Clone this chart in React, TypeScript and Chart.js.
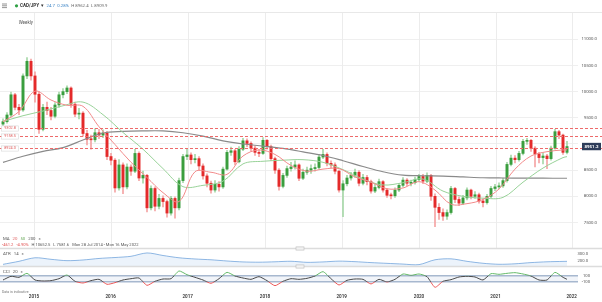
import React, { useEffect, useRef } from 'react';
import { Chart, registerables } from 'chart.js';

Chart.register(...registerables);

const FONT = 'Roboto, "Liberation Sans", sans-serif';

// ---- weekly candles (CAD/JPY x100) ----
const firstOpen = 9380;
const closes = [
  9426, 9554, 9940, 9700, 9650, 10300, 10580, 10300, 9950, 9280,
  9700, 9640, 9530, 9745, 9940, 10000, 10070, 9760, 9570, 9590,
  9200, 9090, 9080, 9215, 9170, 9210, 8760, 8690, 8160, 8600,
  8180, 8560, 8480, 8820, 8350, 8400, 7780, 8150, 7810, 7960,
  7900, 7680, 7960, 7780, 8300, 8760, 8790, 8700, 8720, 8580,
  8390, 8250, 8120, 8230, 8180, 8520, 8840, 8870, 8660, 8900,
  9060, 9010, 8920, 8840, 8820, 9070, 8950, 8720, 8500, 8190,
  8400, 8530, 8560, 8600, 8345, 8460, 8500, 8530, 8550, 8750,
  8800, 8630, 8600, 8480, 8120, 8240, 8350, 8400, 8460, 8250,
  8360, 8280, 8100, 8170, 8280, 8120, 8020, 8010, 8120, 8210,
  8310, 8250, 8260, 8320, 8380, 8290, 8400, 8000, 7790, 7690,
  7620, 7690, 8150, 7940, 7870, 7970, 8120, 8000, 8030, 7910,
  7880, 8000, 8150, 8180, 8200, 8300, 8610, 8730, 8700, 8820,
  9050, 9070, 8920, 8810, 8740, 8770, 8720, 8920, 9235, 9170,
  8840, 8951.2,
];
const highs = [
  9480, 9600, 9990, 9970, 9760, 10340, 10652, 10620, 10380, 10000,
  9760, 9800, 9700, 9790, 9990, 10060, 10110, 10090, 9800, 9680,
  9620, 9260, 9170, 9290, 9280, 9270, 9240, 8820, 8720, 8700,
  8640, 8620, 8600, 8900, 8850, 8480, 8420, 8200, 8180, 8040,
  8010, 7930, 8000, 7990, 8350, 8800, 8900, 8830, 8800, 8760,
  8620, 8430, 8290, 8300, 8280, 8560, 8880, 8940, 8900, 8950,
  9110, 9100, 9040, 8960, 8900, 9120, 9090, 8980, 8750, 8530,
  8440, 8580, 8650, 8680, 8620, 8520, 8560, 8600, 8620, 8800,
  8900, 8830, 8680, 8640, 8500, 8300, 8400, 8460, 8520, 8490,
  8420, 8400, 8310, 8230, 8330, 8300, 8150, 8060, 8160, 8250,
  8360, 8340, 8310, 8370, 8420, 8420, 8450, 8420, 8050, 7860,
  7760, 7740, 8190, 8170, 7990, 8020, 8160, 8140, 8090, 8060,
  7950, 8040, 8190, 8230, 8260, 8350, 8650, 8790, 8780, 8860,
  9090, 9110, 9090, 8950, 8840, 8830, 8800, 8960, 9280, 9260,
  9190, 9050,
];
const lows = [
  9340, 9400, 9520, 9650, 9560, 9620, 10250, 10220, 9800, 9200,
  9250, 9560, 9460, 9500, 9700, 9880, 9960, 9700, 9520, 9480,
  9150, 8980, 8900, 9040, 9100, 9120, 8700, 8600, 8080, 8120,
  8050, 8140, 8400, 8450, 8300, 8250, 7700, 7740, 7720, 7760,
  7800, 7600, 7640, 7581.6, 7740, 8260, 8700, 8620, 8640, 8500,
  8330, 8180, 8060, 8080, 8100, 8150, 8500, 8780, 8600, 8640,
  8870, 8950, 8860, 8780, 8760, 8800, 8900, 8680, 8440, 8120,
  8160, 8360, 8480, 8520, 8300, 8320, 8420, 8440, 8480, 8520,
  8720, 8580, 8540, 8430, 8080, 7612, 8200, 8310, 8360, 8200,
  8220, 8220, 8060, 8070, 8140, 8080, 7980, 7950, 7980, 8090,
  8180, 8200, 8200, 8230, 8290, 8240, 8260, 7920, 7422, 7560,
  7540, 7560, 7660, 7880, 7820, 7840, 7930, 7950, 7960, 7870,
  7800, 7850, 7970, 8110, 8140, 8170, 8270, 8580, 8640, 8670,
  8790, 8990, 8860, 8560, 8640, 8620, 8530, 8690, 8900, 9100,
  8800, 8810,
];

// moving averages, sampled every 4 / 5 candles (last value = last candle)
const ma20 = [
  9426, 9620, 10010, 9840, 9740, 9720, 9330, 8990, 8650, 8360,
  8070, 7900, 8470, 8460, 8420, 8770, 8886, 8800, 8590, 8480,
  8520, 8530, 8370, 8270, 8145, 8160, 8280, 8120, 7850, 7860,
  7940, 8140, 8520, 8770, 8853, 8886, 8886,
];
const ma50 = [
  9430, 9540, 9630, 9730, 9800, 9560, 9220, 8900, 8530, 8185,
  8210, 8290, 8620, 8670, 8690, 8700, 8650, 8510, 8330, 8217,
  8260, 8330, 8100, 8000, 7965, 7980, 8270, 8540, 8740, 8758,
];
const ma200 = [
  8650, 8765, 8860, 8930, 9077, 9210, 9240, 9250, 9250, 9215,
  9150, 9060, 9000, 8960, 8915, 8850, 8780, 8680, 8570, 8470,
  8405, 8393, 8385, 8370, 8355, 8350, 8348, 8346, 8345, 8345,
];
// ATR 14, sampled every 4 candles
const atr = [
  150, 195, 248, 225, 205, 215, 238, 252, 270, 320,
  282, 248, 230, 218, 200, 186, 182, 188, 196, 180,
  186, 198, 190, 176, 165, 154, 146, 218, 232, 195,
  166, 151, 158, 176, 188, 194, 195,
];
// CCI 20, sampled every 2 candles
const cci = [
  -43, 80, 46, 179, -43, -76, -65, 0, 123, -87,
  -143, -65, -21, -187, -132, -43, 0, 23, -221, -87,
  -10, 0, 257, 134, 46, -43, -154, 0, 212, 90,
  23, -21, 68, -65, -232, -87, 0, -21, 12, 90,
  235, 0, -210, -54, -10, -21, -176, -21, -110, -21,
  157, 112, 157, 68, -287, -87, -32, 57, 80, 57,
  -43, 168, 146, 179, 201, 157, 90, -43, -43, 212,
  46, -21,
];

const levels = [9302.8, 9158.5, 8924.0];
const priceTicks = [7500, 8000, 8500, 9000, 9500, 10000, 10500, 11000];
const atrTicks = [300, 200];
const cciTicks = [100, -100];
const yearLabels = ['2015', '2016', '2017', '2018', '2019', '2020', '2021', '2022'];
const yearPos = [7.75, 26.93, 46.18, 65.5, 84.68, 104, 123.13, 142.18]; // in candle units

const GREEN = '#3a9e3e';
const RED = '#e42a2a';
const GREEN_WICK = '#a6d8a8';
const RED_WICK = '#f4a4a4';

const AREA_TOP = 13;
const AREA_BOTTOM = 292;
function rangeFor(v1: number, p1: number, v2: number, p2: number) {
  const upp = (v1 - v2) / (p2 - p1);
  return { max: v1 + (p1 - AREA_TOP) * upp, min: v2 - (AREA_BOTTOM - p2) * upp, upp };
}

export default function App() {
  const ref = useRef<HTMLCanvasElement>(null);

  useEffect(() => {
    const lastIdx = closes.length - 1;
    const toPoints = (vals: number[], step: number) =>
      vals.map((v, k) => ({ x: k === vals.length - 1 ? lastIdx : k * step, y: v }));
    const opens = closes.map((c, i) => (i === 0 ? firstOpen : closes[i - 1]));
    const isUp = closes.map((c, i) => c >= opens[i]);

    const mainR = rangeFor(11000, 39.3, 7500, 222.5);
    const atrR = rangeFor(300, 254.3, 200, 261);
    const cciR = rangeFor(100, 275.7, -100, 281.7);
    const atrFloor = 200 - (266.5 - 261) * atrR.upp;

    const txt = (ctx: CanvasRenderingContext2D, s: string, x: number, y: number, color: string, size: number, align: CanvasTextAlign = 'left', weight = 'normal') => {
      ctx.font = `${weight} ${size}px ${FONT}`;
      ctx.fillStyle = color;
      ctx.textAlign = align;
      ctx.textBaseline = 'middle';
      ctx.fillText(s, x, y);
      return ctx.measureText(s).width;
    };
    // draw a run of text pieces left to right with gaps
    const run = (ctx: CanvasRenderingContext2D, x: number, y: number, size: number, parts: [string, string, string?][], gap: number) => {
      let cx = x;
      parts.forEach(([s, color, weight]) => {
        cx += txt(ctx, s, cx, y, color, size, 'left', weight || 'normal') + gap;
      });
    };

    const overlay = {
      id: 'overlay',
      beforeDatasetsDraw(chart: any) {
        const { ctx, scales, chartArea } = chart;
        ctx.save();
        ctx.strokeStyle = '#ececec';
        ctx.lineWidth = 1;
        yearPos.forEach((p) => {
          const px = Math.round(scales.x.getPixelForValue(p)) + 0.5;
          ctx.beginPath();
          ctx.moveTo(px, AREA_TOP);
          ctx.lineTo(px, 248);
          ctx.stroke();
        });
        const yc = scales.yCci;
        const y1 = yc.getPixelForValue(100);
        const y2 = yc.getPixelForValue(-100);
        ctx.fillStyle = 'rgba(214,224,238,0.35)';
        ctx.fillRect(chartArea.left, y1, chartArea.right - chartArea.left, y2 - y1);
        ctx.strokeStyle = '#a7b8cf';
        ctx.lineWidth = 1.4;
        [y1, y2].forEach((yy) => {
          ctx.beginPath();
          ctx.moveTo(chartArea.left, yy);
          ctx.lineTo(chartArea.right, yy);
          ctx.stroke();
        });
        ctx.restore();
      },
      beforeDatasetDraw(chart: any, args: any) {
        const ds: any = chart.data.datasets[args.index];
        if (!ds.clipBand) return;
        const yc = chart.scales.yCci;
        const a = chart.chartArea;
        const y1 = yc.getPixelForValue(100);
        const y2 = yc.getPixelForValue(-100);
        let top = 267;
        let bottom = a.bottom;
        if (ds.clipBand === 'high') bottom = y1;
        else if (ds.clipBand === 'low') top = y2;
        else { top = y1; bottom = y2; }
        const ctx = chart.ctx;
        ctx.save();
        ctx.beginPath();
        ctx.rect(a.left, top, a.right - a.left, bottom - top);
        ctx.clip();
      },
      afterDatasetDraw(chart: any, args: any) {
        const ds: any = chart.data.datasets[args.index];
        if (ds.clipBand) chart.ctx.restore();
      },
      afterDatasetsDraw(chart: any) {
        const { ctx, scales } = chart;
        ctx.save();
        ctx.strokeStyle = '#ee6a6a';
        ctx.lineWidth = 1;
        ctx.setLineDash([3, 2]);
        levels.forEach((lv) => {
          const y = Math.round(scales.y.getPixelForValue(lv)) + 0.5;
          ctx.beginPath();
          ctx.moveTo(0, y);
          ctx.lineTo(602, y);
          ctx.stroke();
        });
        ctx.restore();
      },
      afterDraw(chart: any) {
        const { ctx, scales } = chart;
        ctx.save();
        // header
        ctx.strokeStyle = '#666';
        ctx.lineWidth = 0.7;
        [4, 5.8, 7.6].forEach((yy) => {
          ctx.beginPath();
          ctx.moveTo(2, yy);
          ctx.lineTo(7, yy);
          ctx.stroke();
        });
        ctx.fillStyle = '#2ea043';
        ctx.beginPath();
        ctx.arc(16.5, 5.8, 1.6, 0, Math.PI * 2);
        ctx.fill();
        run(ctx, 20, 6, 4.6, [['CAD/JPY', '#333', 'bold'], ['▾', '#333']], 1.5);
        run(ctx, 46.5, 6, 4.3, [['24.7', '#3d85c6'], ['0.28%', '#3d85c6'], ['H 8962.4', '#666'], ['L 8909.9', '#666']], 2.4);
        ctx.strokeStyle = '#e8e8e8';
        ctx.lineWidth = 1;
        ctx.beginPath();
        ctx.moveTo(0, 12.5);
        ctx.lineTo(602, 12.5);
        ctx.stroke();
        txt(ctx, 'Weekly', 25.8, 23, '#555', 4.5, 'center');

        // level labels on left
        levels.forEach((lv) => {
          const y = Math.round(scales.y.getPixelForValue(lv)) + 0.5;
          ctx.fillStyle = '#fff';
          ctx.fillRect(1.5, y - 2.6, 17, 5.2);
          ctx.strokeStyle = '#d8d8d8';
          ctx.lineWidth = 0.6;
          ctx.strokeRect(1.5, y - 2.6, 17, 5.2);
          txt(ctx, lv.toFixed(1), 10, y, '#e06060', 3.8, 'center');
        });

        // last price box
        const lp = closes[closes.length - 1];
        const py = scales.y.getPixelForValue(lp);
        ctx.fillStyle = '#2e3d5a';
        ctx.fillRect(582, py - 3.7, 19, 7.4);
        txt(ctx, lp.toFixed(1), 591.5, py, '#fff', 4.4, 'center', 'bold');

        // legends
        run(ctx, 3, 239, 4.3, [['MA', '#555'], ['20', '#e06666'], ['50', '#6aaa5a'], ['200', '#555'], ['×', '#777']], 3);
        run(ctx, 2, 245, 4.1, [['-461.2', '#e05050'], ['-4.90%', '#e05050'], ['H 10652.5', '#555'], ['L 7581.6', '#555'], ['Mon 28 Jul 2014 - Mon 16 May 2022', '#555']], 3);

        // panel separators
        [248.5, 266.5].forEach((yy) => {
          ctx.strokeStyle = '#dcdcdc';
          ctx.lineWidth = 1.3;
          ctx.beginPath();
          ctx.moveTo(0, yy);
          ctx.lineTo(602, yy);
          ctx.stroke();
          ctx.fillStyle = '#f2f2f2';
          ctx.fillRect(296, yy - 1.6, 8, 3.2);
          ctx.strokeStyle = '#bbb';
          ctx.lineWidth = 0.6;
          ctx.strokeRect(296, yy - 1.6, 8, 3.2);
        });

        // ATR panel labels
        run(ctx, 3, 254.3, 4.3, [['ATR', '#555'], ['14', '#555'], ['×', '#777']], 3);
        atrTicks.forEach((v) => txt(ctx, v.toFixed(1), 588, scales.yAtr.getPixelForValue(v), '#555', 4.2, 'right'));

        // CCI panel labels
        run(ctx, 3, 271.7, 4.3, [['CCI', '#555'], ['20', '#555'], ['×', '#777']], 3);
        cciTicks.forEach((v) => txt(ctx, String(v), 590, scales.yCci.getPixelForValue(v), '#555', 4.2, 'right'));

        txt(ctx, 'Data is indicative', 2, 291.7, '#777', 3.5);

        // year labels
        yearPos.forEach((p, i) => {
          txt(ctx, yearLabels[i], scales.x.getPixelForValue(p), 297.3, '#333', 4.6, 'center', '600');
        });
        ctx.restore();
      },
    };

    const lineBase = { type: 'line', pointRadius: 0, borderWidth: 1, fill: false };

    const chart = new Chart(ref.current as HTMLCanvasElement, {
      type: 'bar',
      data: {
        datasets: [
          { ...lineBase, label: 'MA20', data: toPoints(ma20, 4), borderColor: '#f28a8a', tension: 0.35, yAxisID: 'y', order: 0 },
          { ...lineBase, label: 'MA50', data: toPoints(ma50, 5), borderColor: '#98d298', tension: 0.35, yAxisID: 'y', order: 0 },
          { ...lineBase, label: 'MA200', data: toPoints(ma200, 5), borderColor: '#8a8a8a', borderWidth: 1.2, tension: 0.35, yAxisID: 'y', order: 0 },
          {
            type: 'bar', label: 'body',
            data: closes.map((c, i) => ({ x: i, y: [opens[i], c] })),
            backgroundColor: isUp.map((u) => (u ? GREEN : RED)),
            barThickness: 2.3, grouped: false, minBarLength: 1, yAxisID: 'y', order: 1,
          },
          {
            type: 'bar', label: 'wick',
            data: closes.map((c, i) => ({ x: i, y: [lows[i], highs[i]] })),
            backgroundColor: isUp.map((u) => (u ? GREEN_WICK : RED_WICK)),
            barThickness: 1, grouped: false, yAxisID: 'y', order: 2,
          },
          {
            ...lineBase, label: 'ATR', data: toPoints(atr, 4), borderColor: '#8db6e3', tension: 0.3,
            yAxisID: 'yAtr', fill: { value: atrFloor }, backgroundColor: 'rgba(170,200,238,0.22)', order: 0,
          },
          { ...lineBase, label: 'CCI', clipBand: 'mid', data: toPoints(cci, 2), borderColor: '#4a4a4a', tension: 0.2, yAxisID: 'yCci', order: 0 },
          { ...lineBase, label: 'CCI+', clipBand: 'high', data: toPoints(cci, 2), borderColor: '#66bb6a', tension: 0.2, yAxisID: 'yCci', order: 0 },
          { ...lineBase, label: 'CCI-', clipBand: 'low', data: toPoints(cci, 2), borderColor: '#ec5a5a', tension: 0.2, yAxisID: 'yCci', order: 0 },
        ] as any,
      },
      options: {
        responsive: false,
        animation: false,
        devicePixelRatio: 1,
        events: [],
        layout: { padding: { left: 0, right: 5, top: AREA_TOP, bottom: 302 - AREA_BOTTOM } },
        plugins: { legend: { display: false }, tooltip: { enabled: false } },
        scales: {
          x: { type: 'linear', display: false, offset: false, min: -0.75, max: 143.75 },
          y: {
            type: 'linear', position: 'right', min: mainR.min, max: mainR.max,
            afterBuildTicks: (s: any) => { s.ticks = priceTicks.map((v) => ({ value: v })); },
            afterFit: (s: any) => { s.width = 19; },
            grid: { color: '#efefef', lineWidth: 1, drawTicks: false },
            border: { display: false },
            ticks: {
              font: { size: 4.3, family: FONT }, color: '#555', crossAlign: 'far', padding: 2,
              callback: (v: any) => (v === 9000 ? '' : Number(v).toFixed(1)),
            },
          },
          yAtr: { type: 'linear', display: false, min: atrR.min, max: atrR.max },
          yCci: { type: 'linear', display: false, min: cciR.min, max: cciR.max },
        },
      } as any,
      plugins: [overlay as any],
    });
    return () => chart.destroy();
  }, []);

  return (
    <div style={{ position: 'fixed', left: 0, top: 0, width: 602, height: 302, background: '#fff' }}>
      <canvas ref={ref} width={602} height={302} style={{ display: 'block', width: 602, height: 302 }} />
    </div>
  );
}
